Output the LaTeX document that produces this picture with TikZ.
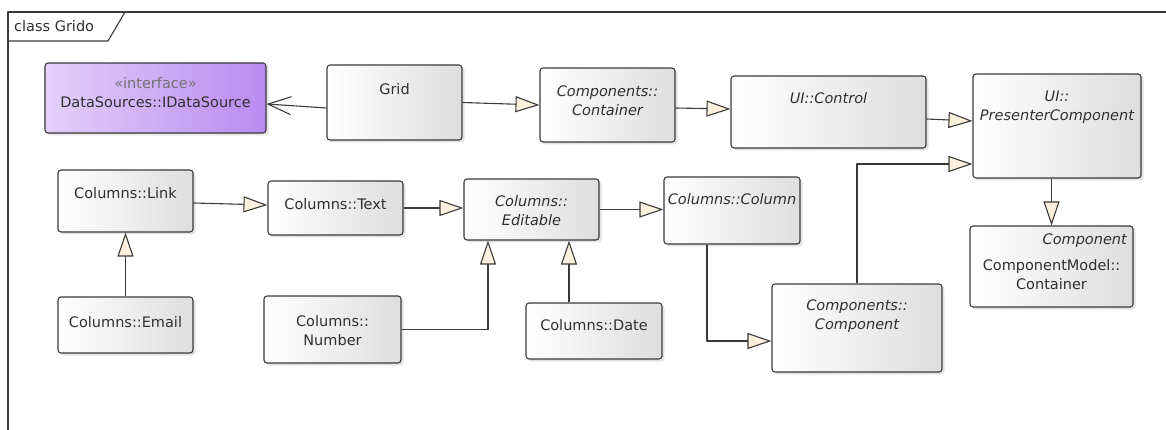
\documentclass[tikz,border=0pt]{standalone}
\usepackage{fontspec}
\setmainfont{DejaVu Sans}
\usetikzlibrary{arrows.meta,shadows,positioning}
\definecolor{edge}{HTML}{3A3A3A}
\definecolor{ink}{HTML}{303030}
\definecolor{cream}{HTML}{FDF1DE}
\definecolor{lilacL}{HTML}{E4D0FA}
\definecolor{lilacR}{HTML}{B98AF0}
\def\sz{\fontsize{14.5}{19}\selectfont}
\begin{document}
\begin{tikzpicture}[x=1pt, y=-1pt, line join=round, font=\sz,
	cls/.style={draw=edge, line width=1.1pt, rounded corners=3pt, left color=white, right color=black!13,
		drop shadow={shadow xshift=2.5pt, shadow yshift=-2.5pt, opacity=.22}, inner sep=0pt},
	iface/.style={cls, left color=lilacL, right color=lilacR},
	lbl/.style={text=ink, align=center, inner sep=0pt},
	abst/.style={lbl, font=\sz\itshape},
	gen/.style={draw=edge, line width=1.1pt, -{Triangle[length=24pt,width=16pt,fill=cream]}},
	assoc/.style={draw=edge, line width=1.1pt, -{Straight Barb[length=23pt,width=18pt]}}]
	\useasboundingbox (0,0) rectangle (1166,430);
	% frame with its tab
	\draw[edge, line width=1.1pt] (8,430) -- (8,12) -- (1166,12);
	\draw[edge, line width=1.1pt] (8,41) -- (108,41) -- (125,12);
	\node[lbl, anchor=west] (title) at (14,26) {class Grido};
	% classes (top row)
	\node[iface, minimum width=221pt, minimum height=70pt] (ids) at (155.5,98) {};
	\node[cls, minimum width=135pt, minimum height=75pt] (grid) at (394.5,102.5) {};
	\node[cls, minimum width=135pt, minimum height=74pt] (cont) at (607.5,105) {};
	\node[cls, minimum width=195pt, minimum height=72pt] (ctrl) at (828.5,112) {};
	\node[cls, minimum width=168pt, minimum height=104pt] (pres) at (1057,126) {};
	\node[cls, minimum width=163pt, minimum height=81pt] (cmc) at (1051.5,266.5) {};
	% classes (columns)
	\node[cls, minimum width=135pt, minimum height=62pt] (link) at (125.5,201) {};
	\node[cls, minimum width=135pt, minimum height=56pt] (email) at (125.5,325) {};
	\node[cls, minimum width=135pt, minimum height=54pt] (text) at (335.5,208) {};
	\node[cls, minimum width=137pt, minimum height=67pt] (num) at (332.5,329.5) {};
	\node[cls, minimum width=135pt, minimum height=61pt] (edit) at (531.5,209.5) {};
	\node[cls, minimum width=136pt, minimum height=67pt] (col) at (732,210.5) {};
	\node[cls, minimum width=136pt, minimum height=56pt] (date) at (594,331) {};
	\node[cls, minimum width=170pt, minimum height=88pt] (comp) at (857,328) {};
	% names
	\node[lbl] (ids-t) at (155.5,93) {\textcolor{black!55}{«interface»}\\DataSources::IDataSource};
	\node[lbl] (grid-t) at (394.5,89) {Grid};
	\node[abst] (cont-t) at (607.5,100.5) {Components::\\Container};
	\node[abst] (ctrl-t) at (828.5,98) {UI::Control};
	\node[abst] (pres-t) at (1057,107.5) {UI::\\PresenterComponent};
	\node[abst, anchor=east] (cmc-s) at (1127,241) {Component};
	\node[lbl] (cmc-t) at (1051.5,275) {ComponentModel::\\Container};
	\node[lbl] (link-t) at (125.5,193) {Columns::Link};
	\node[lbl] (email-t) at (125.5,322) {Columns::Email};
	\node[lbl] (text-t) at (335.5,204) {Columns::Text};
	\node[lbl] (num-t) at (332.5,331) {Columns::\\Number};
	\node[abst] (edit-t) at (531.5,211) {Columns::\\Editable};
	\node[abst] (col-t) at (732,199) {Columns::Column};
	\node[lbl] (date-t) at (594,325) {Columns::Date};
	\node[abst] (comp-t) at (857,316) {Components::\\Component};
	% relations
	\draw[assoc] ([yshift=-5.5pt]grid.west) -- ([yshift=-6pt]ids.east);
	\draw[gen] (grid.east) -- (cont.west);
	\draw[gen] ([yshift=-3pt]cont.east) -- ([yshift=3pt]ctrl.west);
	\draw[gen] ([yshift=-7pt]ctrl.east) -- ([yshift=5pt]pres.west);
	\draw[gen] (comp.north) |- ([yshift=-38pt]pres.west);
	\draw[gen] (pres.south -| cmc.north) -- (cmc.north);
	\draw[gen] ([yshift=-2pt]link.east) -- ([yshift=3pt]text.west);
	\draw[gen] (text.east) -- (text.east -| edit.west);
	\draw[gen] (email.north) -- (link.south);
	\draw[gen] (num.east) -| ([xshift=-43.5pt]edit.south);
	\coordinate (dateup) at ([xshift=37.5pt]edit.south);
	\draw[gen] (date.north -| dateup) -- (dateup);
	\draw[gen] (edit.east) -- (edit.east -| col.west);
	\draw[gen] ([xshift=-25pt]col.south) |- ([yshift=-13pt]comp.west);
\end{tikzpicture}
\end{document}
